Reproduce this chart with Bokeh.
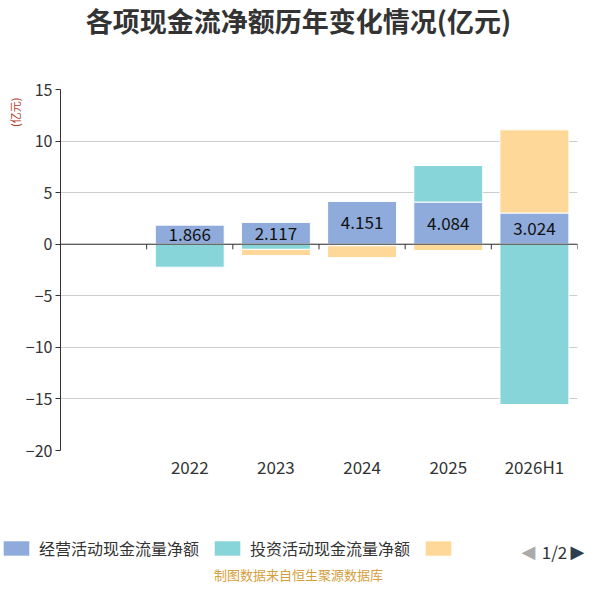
import numpy as np
from bokeh.plotting import figure
from bokeh.layouts import column
from bokeh.models import (Range1d, FixedTicker, Span, Legend, LegendItem, Title, Label,
                          ColumnDataSource)
from bokeh.core.properties import value
from bokeh.embed import file_html
from bokeh.resources import INLINE

categories = ["2022", "2023", "2024", "2025", "2026H1"]
operating = [1.866, 2.117, 4.151, 4.084, 3.024]
investing = [-2.23, -0.50, -0.15, 3.55, -15.54]
financing = [0.05, -0.60, -1.15, -0.61, 8.07]
series_names = ["经营活动现金流量净额", "投资活动现金流量净额", "筹资活动现金流量净额"]
colors = ["#8eabdb", "#87d5d8", "#fed898"]
y_ticks = [-20, -15, -10, -5, 0, 5, 10, 15]
pager_text = "1/2"
title_text = "各项现金流净额历年变化情况(亿元)"
unit_text = "(亿元)"
source_text = "制图数据来自恒生聚源数据库"

FONT = "Noto Sans CJK SC"
W = 584
n_slots = len(categories) + 1  # leading empty slot
xs = np.arange(len(categories)) + 1.5


def strip(height):
    f = figure(width=W, height=height, output_backend="svg", toolbar_location=None,
               x_range=Range1d(0, W), y_range=Range1d(0, height),
               x_axis_type=None, y_axis_type=None,
               min_border_left=0, min_border_right=0, min_border_top=0,
               min_border_bottom=0)
    f.outline_line_color = None
    f.xgrid.grid_line_color = None
    f.ygrid.grid_line_color = None
    return f


# ---------------- title strip ----------------
H0 = 60
t = strip(H0)
t.add_layout(Label(x=298, y=H0 - 20, x_units="screen", y_units="screen", text=title_text,
                   text_align="center", text_baseline="middle", text_font=FONT,
                   text_font_size="27px", text_font_style="bold", text_color="#333333"))

# ---------------- main chart ----------------
H1 = 422
p = figure(width=W, height=H1, output_backend="svg", toolbar_location=None,
           x_range=Range1d(0, n_slots), y_range=Range1d(min(y_ticks), max(y_ticks)),
           min_border_left=60, min_border_right=7, min_border_top=29,
           min_border_bottom=32)
p.outline_line_color = None
p.title.text = ""

pos_base = np.zeros(len(categories))
neg_base = np.zeros(len(categories))
renderers = []
for vals, col in zip([operating, investing, financing], colors):
    v = np.array(vals, dtype=float)
    bottom = np.where(v >= 0, pos_base, neg_base)
    top = bottom + v
    pos_base = np.where(v >= 0, top, pos_base)
    neg_base = np.where(v < 0, top, neg_base)
    r = p.vbar(x=xs, width=0.8, bottom=bottom, top=top, fill_color=col,
               line_color="white", line_width=1)
    renderers.append(r)

src = ColumnDataSource(dict(x=xs, y=np.array(operating) / 2,
                            t=["%.3f" % v for v in operating]))
p.text(x="x", y="y", text="t", source=src, text_align="center",
       text_baseline="middle", text_font=value(FONT), text_font_size="17px",
       text_color="#111111")

p.yaxis.ticker = FixedTicker(ticks=y_ticks)
p.yaxis.axis_line_color = "#333333"
p.yaxis.major_tick_line_color = "#333333"
p.yaxis.major_tick_out = 5
p.yaxis.major_tick_in = 0
p.yaxis.minor_tick_line_color = None
p.yaxis.major_label_text_font = FONT
p.yaxis.major_label_text_font_size = "16px"
p.yaxis.major_label_text_color = "#333333"
p.yaxis.major_label_standoff = 3

p.xaxis.ticker = FixedTicker(ticks=list(xs))
p.xaxis.major_label_overrides = {float(x): c for x, c in zip(xs, categories)}
p.xaxis.axis_line_color = None
p.xaxis.major_tick_line_color = None
p.xaxis.major_tick_out = 0
p.xaxis.major_tick_in = 0
p.xaxis.minor_tick_line_color = None
p.xaxis.minor_tick_out = 0
p.xaxis.major_label_text_font = FONT
p.xaxis.major_label_text_font_size = "17px"
p.xaxis.major_label_text_color = "#333333"
p.xaxis.major_label_standoff = 3

p.xgrid.grid_line_color = None
p.ygrid.ticker = FixedTicker(ticks=y_ticks)
p.ygrid.grid_line_color = "#cccccc"

p.add_layout(Span(location=0, dimension="width", line_color="#333333", line_width=1))
bounds = np.arange(n_slots + 1)
p.segment(x0=bounds, y0=np.zeros(len(bounds)), x1=bounds, y1=np.full(len(bounds), -0.5),
          line_color="#333333", line_width=1)

p.add_layout(Title(text=unit_text, align="right", offset=8, standoff=0, text_font=FONT,
                   text_font_size="11px", text_font_style="normal",
                   text_color="#b5382a"), "left")

# ---------------- legend / footer strip ----------------
H2 = 584 - H0 - H1
q = strip(H2)
proxies = [q.vbar(x=[-100], width=1, top=[-50], bottom=[-60], fill_color=c,
                  line_color=None) for c in colors]
items = [LegendItem(label=series_names[0], renderers=[proxies[0]]),
         LegendItem(label=series_names[1], renderers=[proxies[1]]),
         LegendItem(label=" ", renderers=[proxies[2]])]
leg = Legend(items=items, orientation="horizontal", location=(0, 24),
             glyph_width=32, glyph_height=18, label_standoff=7, spacing=12,
             padding=0, margin=0, border_line_color=None, background_fill_alpha=0,
             label_text_font=FONT, label_text_font_size="16px",
             label_text_color="#333333", label_height=18)
q.add_layout(leg, "center")

q.add_layout(Label(x=528, y=33, x_units="screen", y_units="screen", text="◀",
                   text_align="center", text_baseline="middle", text_font="DejaVu Sans",
                   text_font_size="18px", text_color="#aaaaaa"))
q.add_layout(Label(x=554, y=33, x_units="screen", y_units="screen", text=pager_text,
                   text_align="center", text_baseline="middle", text_font=FONT,
                   text_font_size="17px", text_color="#333333"))
q.add_layout(Label(x=577, y=33, x_units="screen", y_units="screen", text="▶",
                   text_align="center", text_baseline="middle", text_font="DejaVu Sans",
                   text_font_size="18px", text_color="#2c3e50"))
q.add_layout(Label(x=298, y=10, x_units="screen", y_units="screen",
                   text=source_text, text_align="center",
                   text_baseline="middle", text_font=FONT, text_font_size="13px",
                   text_color="#d4a03c"))

layout = column(column(t), p, column(q))
open("out.html", "w").write(file_html(layout, INLINE))
